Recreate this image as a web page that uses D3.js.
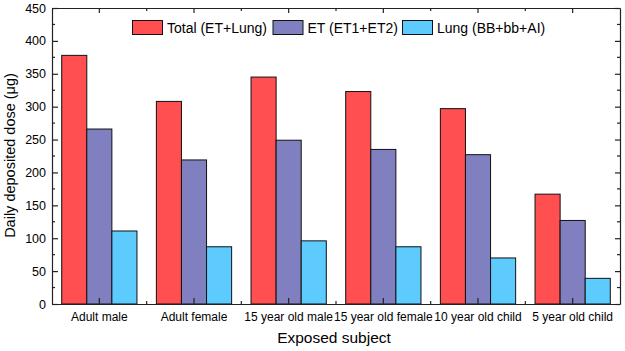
<!doctype HTML>
<html>
<head>
    <script src="https://d3js.org/d3.v7.min.js"></script>
    <style>
        body { margin: 0; background: #fff; }
        text { font-family: "Liberation Sans", Arial, sans-serif; fill: #000; }
    </style>
</head>
<body>
<script>
    // data
    var subjects = ["Adult male", "Adult female", "15 year old male", "15 year old female", "10 year old child", "5 year old child"];
    var seriesNames = ["Total (ET+Lung)", "ET (ET1+ET2)", "Lung (BB+bb+AI)"];
    var totalDose = [378, 308, 345, 323, 297, 167];
    var etDose = [266, 219, 249, 235, 227, 127];
    var lungDose = [111, 87, 96, 87, 70, 39];
    var yTicks = [0, 50, 100, 150, 200, 250, 300, 350, 400, 450];

    var colors = ["#ff4f51", "#8080c0", "#5ecbfe"];
    var series = [totalDose, etDose, lungDose];

    var canvasWidth = 625;
    var canvasHeight = 351;
    var margin = {left: 52, right: 5, top: 8, bottom: 47};
    var width = canvasWidth - margin.left - margin.right;
    var height = canvasHeight - margin.top - margin.bottom;

    var svg = d3.select("body").append("svg")
        .attr("width", canvasWidth)
        .attr("height", canvasHeight);

    var g = svg.append("g")
        .attr("transform", "translate(" + margin.left + "," + margin.top + ")");

    var xScale = d3.scaleBand().domain(subjects).range([0, width])
        .paddingInner(0.205).paddingOuter(0.1025);
    var xSub = d3.scaleBand().domain(d3.range(seriesNames.length))
        .range([0, xScale.bandwidth()]);
    var yScale = d3.scaleLinear().domain([0, 450]).range([height, 0]);

    // bars
    var groups = g.selectAll(".grp")
        .data(subjects)
        .enter().append("g")
        .attr("class", "grp")
        .attr("transform", function(d) { return "translate(" + xScale(d) + ",0)"; });

    groups.selectAll("rect")
        .data(function(d, i) { return series.map(function(s, k) { return {k: k, v: s[i]}; }); })
        .enter().append("rect")
        .attr("x", function(d) { return xSub(d.k); })
        .attr("y", function(d) { return yScale(d.v); })
        .attr("width", xSub.bandwidth())
        .attr("height", function(d) { return height - yScale(d.v); })
        .attr("fill", function(d) { return colors[d.k]; })
        .attr("stroke", "#111")
        .attr("stroke-width", 1);

    // axes
    var step = xScale.step();
    var bounds = d3.range(1, subjects.length).map(function(i) { return i * step; });
    var minorY = yTicks.slice(0, -1).map(function(v) { return v + 25; });

    var xAxis = g.append("g")
        .attr("transform", "translate(0," + height + ")")
        .call(d3.axisBottom(xScale).tickSizeInner(-6).tickSizeOuter(0).tickPadding(8));
    xAxis.selectAll("text").attr("font-size", "12px");

    var yAxis = g.append("g")
        .call(d3.axisLeft(yScale).tickValues(yTicks).tickSizeInner(-6).tickSizeOuter(0).tickPadding(6));
    yAxis.selectAll("text").attr("font-size", "12.5px");

    g.append("g")
        .call(d3.axisTop(xScale).tickSizeInner(-5).tickSizeOuter(0).tickFormat(""));
    g.append("g")
        .attr("transform", "translate(" + width + ",0)")
        .call(d3.axisRight(yScale).tickValues(yTicks).tickSizeInner(-5).tickSizeOuter(0).tickFormat(""));

    g.selectAll(".domain, .tick line").attr("stroke", "#222").attr("stroke-width", 1.2);

    // minor ticks
    var minor = g.append("g").attr("stroke", "#222").attr("stroke-width", 1.2);
    bounds.forEach(function(x) {
        minor.append("line").attr("x1", x).attr("x2", x).attr("y1", height).attr("y2", height - 3);
        minor.append("line").attr("x1", x).attr("x2", x).attr("y1", 0).attr("y2", 3);
    });
    minorY.forEach(function(v) {
        minor.append("line").attr("x1", 0).attr("x2", 3).attr("y1", yScale(v)).attr("y2", yScale(v));
        minor.append("line").attr("x1", width).attr("x2", width - 3).attr("y1", yScale(v)).attr("y2", yScale(v));
    });

    // axis titles
    svg.append("text")
        .attr("x", margin.left + width / 2 - 2)
        .attr("y", 343)
        .attr("text-anchor", "middle")
        .attr("font-size", "15.5px")
        .text("Exposed subject");

    svg.append("text")
        .attr("transform", "translate(15,155.5) rotate(-90)")
        .attr("text-anchor", "middle")
        .attr("font-size", "14.5px")
        .text("Daily deposited dose (\u03bcg)");

    // legend
    var legendX = [132, 272.5, 402];
    var legend = svg.append("g");
    seriesNames.forEach(function(name, k) {
        legend.append("rect")
            .attr("x", legendX[k] + 0.5)
            .attr("y", 20.5)
            .attr("width", 30)
            .attr("height", 14)
            .attr("fill", colors[k])
            .attr("stroke", "#111")
            .attr("stroke-width", 1);
        legend.append("text")
            .attr("x", legendX[k] + 35)
            .attr("y", 32.5)
            .attr("font-size", "14px")
            .text(name);
    });
</script>
</body>
</html>
